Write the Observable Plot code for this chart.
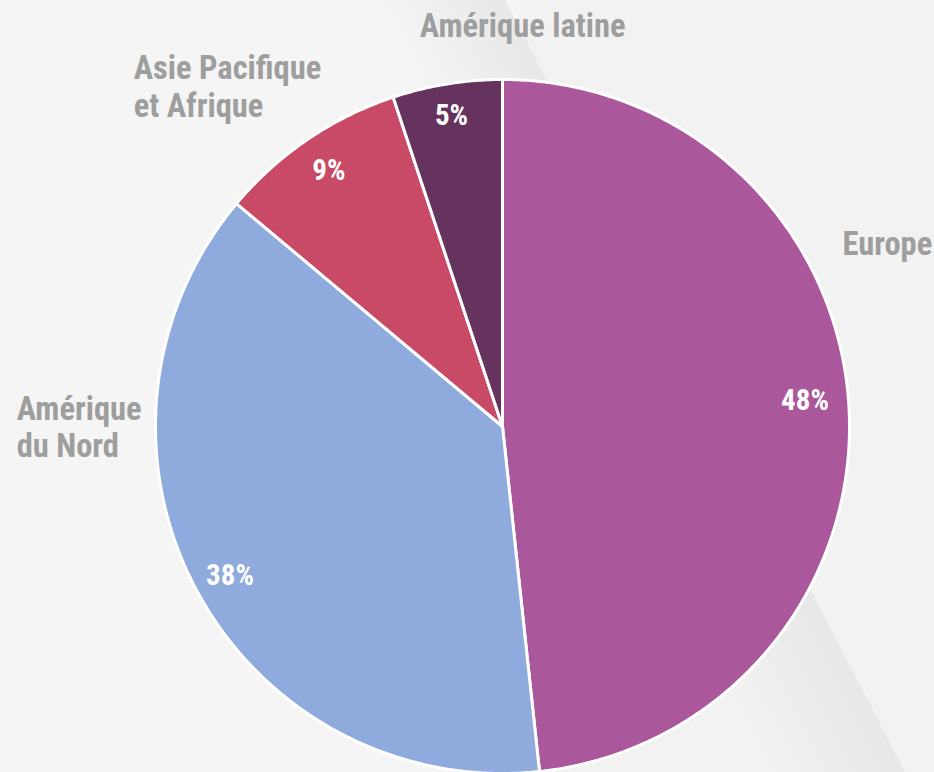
<!DOCTYPE html>
<html><head><meta charset="utf-8">
<script src="https://cdn.jsdelivr.net/npm/d3@7"></script>
<script src="https://cdn.jsdelivr.net/npm/@observablehq/plot@0.6"></script>
<style>
html,body{margin:0;padding:0;background:#f3f3f3;}
#wrap{position:relative;width:934px;height:772px;overflow:hidden;}
#bg{position:absolute;left:0;top:0;}
#chart{position:absolute;left:0;top:0;}
</style></head><body>
<div id="wrap">
<svg id="bg" width="934" height="772">
  <defs>
    <linearGradient id="shade" gradientUnits="userSpaceOnUse" x1="398" y1="55" x2="505" y2="0">
      <stop offset="0" stop-color="#e8e8e8" stop-opacity="0"/>
      <stop offset="1" stop-color="#e8e8e8" stop-opacity="1"/>
    </linearGradient>
  </defs>
  <rect width="934" height="772" fill="#f2f2f2"/>
  <rect width="520" height="772" fill="#f5f5f5"/>
  <polygon points="0,0 505,0 905,772 0,772" fill="url(#shade)"/>
</svg>
<div id="chart"></div>
</div>
<script>
const regions = ["Europe", "Amérique du Nord", "Asie Pacifique et Afrique", "Amérique latine"];
const shares = [48.3, 37.8, 8.8, 5.1];
const pctLabels = ["48%", "38%", "9%", "5%"];
const nameLabels = ["Europe", "Amérique\ndu Nord", "Asie Pacifique\net Afrique", "Amérique latine"];
const colors = ["#ab579b", "#8faadc", "#c84a66", "#66325e"];

// label layout (unit-circle coordinates), kept apart from data
const nameLayout = [
  {x: 0.98, y: 0.53, anchor: "start"},
  {x: -1.40, y: 0.0, anchor: "start"},
  {x: -1.063, y: 0.982, anchor: "start"},
  {x: 0.058, y: 1.158, anchor: "middle"}
];
// small nudges of the percentage labels from the mid-angle position
const pctNudge = [
  {nx: -0.017, ny: 0.027},
  {nx: 0.0, ny: -0.012},
  {nx: 0.0, ny: 0.0},
  {nx: -0.005, ny: 0.016}
];

const arcs = d3.pie().sort(null).value(d => d)(shares);
const slices = arcs.map((a, i) => ({
  region: regions[i], pct: pctLabels[i], name: nameLabels[i],
  start: a.startAngle, end: a.endAngle, mid: (a.startAngle + a.endAngle) / 2,
  ...nameLayout[i], ...pctNudge[i]
}));

const pts = [];
for (const s of slices) {
  pts.push({region: s.region, x: 0, y: 0});
  const n = Math.max(2, Math.ceil((s.end - s.start) / (Math.PI / 360)));
  for (let k = 0; k <= n; k++) {
    const a = s.start + (s.end - s.start) * k / n;
    pts.push({region: s.region, x: Math.sin(a), y: Math.cos(a)});
  }
}

const font = "'Liberation Sans Narrow','Roboto Condensed','DejaVu Sans Condensed','Arial Narrow',sans-serif";
const rl = 0.89;

const chart = Plot.plot({
  width: 934, height: 772,
  margin: 0,
  x: {domain: [-1, 1], range: [155, 849], axis: null},
  y: {domain: [-1, 1], range: [773, 79], axis: null},
  color: {domain: regions, range: colors},
  style: {background: "transparent", fontFamily: font},
  marks: [
    Plot.line(pts, {x: "x", y: "y", z: "region", fill: "region", stroke: "white",
      strokeWidth: 3, strokeLinejoin: "round", curve: "linear-closed"}),
    Plot.text(slices, {x: d => rl * Math.sin(d.mid) + d.nx, y: d => rl * Math.cos(d.mid) + d.ny, text: "pct",
      fill: "white", fontSize: 29, fontWeight: "bold"}),
    Plot.text(slices.filter(d => d.anchor === "start"), {x: "x", y: "y", text: "name", textAnchor: "start",
      fill: "#9e9e9e", fontSize: 32.5, fontWeight: "bold", lineHeight: 1.16}),
    Plot.text(slices.filter(d => d.anchor === "middle"), {x: "x", y: "y", text: "name", textAnchor: "middle",
      fill: "#9e9e9e", fontSize: 32.5, fontWeight: "bold", lineHeight: 1.16})
  ]
});
document.getElementById("chart").appendChild(chart);
</script>
</body></html>
